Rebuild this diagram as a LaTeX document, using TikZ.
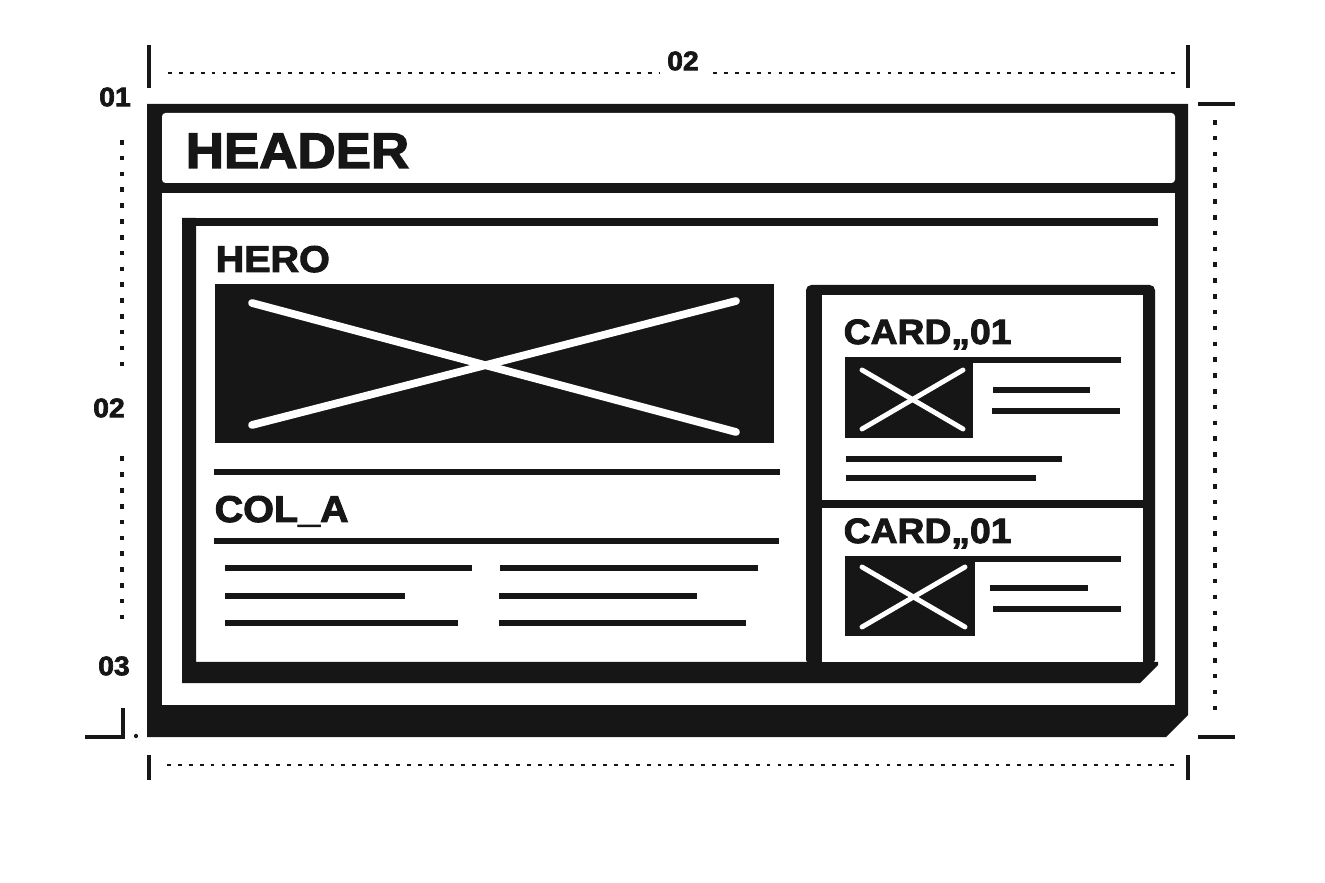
\documentclass[tikz,border=0pt]{standalone}
\usepackage{fontspec}
\newfontfamily\wirefont{Liberation Sans}[UprightFont={* Bold}, FakeStretch=1.06, FakeBold=2.6]
\usepackage{tikz}
\usetikzlibrary{positioning}
\definecolor{ink}{RGB}{22,22,22}
\tikzstyle{textline} = [
    draw=ink,
    line width=1.6pt
]
\tikzstyle{cross} = [
    draw=white,
    line width=2.2pt,
    line cap=round
]
\tikzstyle{smallcross} = [
    draw=white,
    line width=1.4pt,
    line cap=round
]
\tikzstyle{headtitle} = [
    font=\wirefont\fontsize{14.2}{16}\selectfont,
    text=ink,
    inner sep=0pt,
    anchor=base west
]
\tikzstyle{sectiontitle} = [
    font=\wirefont\fontsize{10.6}{13}\selectfont,
    text=ink,
    inner sep=0pt,
    anchor=base west
]
\tikzstyle{cardtitle} = [
    font=\wirefont\fontsize{10}{12}\selectfont,
    text=ink,
    inner sep=0pt,
    anchor=base west
]
\tikzstyle{dimlabel} = [
    font=\wirefont\fontsize{7.6}{9}\selectfont,
    text=ink,
    fill=white,
    inner sep=2pt
]
\tikzstyle{tick} = [
    draw=ink,
    line width=1.1pt
]
\tikzstyle{dimline} = [
    draw=ink,
    line width=0.45pt,
    dash pattern=on 1.1pt off 2pt
]
\tikzstyle{dotline} = [
    draw=ink,
    line width=0.9pt,
    dash pattern=on 1.3pt off 3.2pt
]

\begin{document}
\begin{tikzpicture}[x=0.01cm, y=-0.01cm]
    \useasboundingbox (0,0) rectangle (1325,883);

    % Outer frame
    \fill[ink] (147,104) -- (1188,104) -- (1188,715) -- (1166,737) -- (147,737) -- cycle;
    \fill[white, rounded corners=1pt] (162,113) rectangle (1175,183);
    \fill[white] (162,193) rectangle (1175,705);
    \node[headtitle] (header) at (185,168) {HEADER};

    % Inner container
    \fill[ink] (182,218) rectangle (1158,226);
    \fill[ink] (182,218) -- (196,218) -- (196,662) -- (1158,662) -- (1158,665) -- (1140,683) -- (182,683) -- cycle;

    % Hero
    \node[sectiontitle] (hero) at (215,272) {HERO};
    \fill[ink] (215,284) rectangle (774,443);
    \draw[cross] (252,303) -- (736,432);
    \draw[cross] (252,425) -- (736,301);
    \draw[textline] (214,472) -- (780,472);

    % Column A
    \node[sectiontitle] (cola) at (214,522) {COL\_A};
    \draw[textline] (214,541) -- (779,541);
    \draw[textline] (225,568) -- (472,568);
    \draw[textline] (225,596) -- (405,596);
    \draw[textline] (225,623) -- (458,623);
    \draw[textline] (500,568) -- (758,568);
    \draw[textline] (499,596) -- (697,596);
    \draw[textline] (499,623) -- (746,623);

    % Card column
    \fill[ink, rounded corners=1.5pt] (806,285) rectangle (1155,665);
    \fill[white] (822,295) rectangle (1143,500);
    \fill[white] (822,508) rectangle (1143,662);

    % Card 1
    \node[cardtitle] (cardone) at (843,344) {CARD„01};
    \fill[ink] (845,358) rectangle (973,438);
    \draw[textline] (845,360) -- (1121,360);
    \draw[smallcross] (862,370) -- (963,429);
    \draw[smallcross] (862,429) -- (963,370);
    \draw[textline] (993,390) -- (1090,390);
    \draw[textline] (992,411) -- (1120,411);
    \draw[textline] (846,459) -- (1062,459);
    \draw[textline] (846,478) -- (1036,478);

    % Card 2
    \node[cardtitle] (cardtwo) at (843,543) {CARD„01};
    \fill[ink] (845,556) rectangle (975,636);
    \draw[textline] (845,559) -- (1121,559);
    \draw[smallcross] (862,567) -- (965,627);
    \draw[smallcross] (862,627) -- (965,567);
    \draw[textline] (990,588) -- (1088,588);
    \draw[textline] (993,609) -- (1121,609);

    % Top dimension
    \coordinate (topa) at (168,73);
    \coordinate (topb) at (1180,73);
    \draw[tick] (149,45) -- (149,88);
    \draw[tick] (1188,45) -- (1188,88);
    \draw[dimline] (topa) -- (topb);
    \node[dimlabel] (topdim) at (683,61) {02};

    % Left dimension
    \coordinate (lefta) at (122,140);
    \coordinate (leftb) at (122,627);
    \draw[dotline] (lefta) -- (leftb);
    \node[dimlabel] (leftone) at (115,97) {01};
    \node[dimlabel, inner ysep=8pt] (lefttwo) at (109,408) {02};
    \node[dimlabel] (leftthree) at (114,666) {03};
    \draw[tick] (85,737) -- (123,737) -- (123,708);
    \fill[ink] (136,736) circle (0.6pt);

    % Right dimension
    \coordinate (righta) at (1215,120);
    \coordinate (rightb) at (1215,720);
    \draw[tick] (1198,104) -- (1235,104);
    \draw[tick] (1198,737) -- (1235,737);
    \draw[dotline] (righta) -- (rightb);

    % Bottom dimension
    \coordinate (bota) at (167,765);
    \coordinate (botb) at (1175,765);
    \draw[tick] (149,755) -- (149,780);
    \draw[tick] (1188,755) -- (1188,780);
    \draw[dimline] (bota) -- (botb);
\end{tikzpicture}
\end{document}
